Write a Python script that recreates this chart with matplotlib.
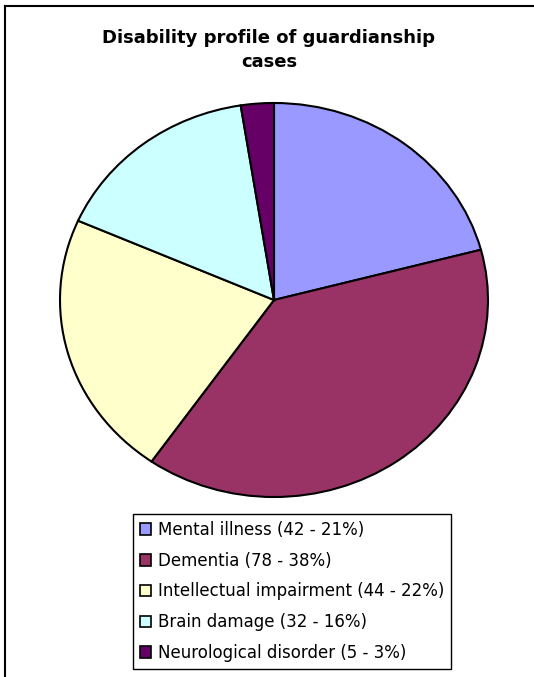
import matplotlib.pyplot as plt
from matplotlib.patches import Patch
from matplotlib.lines import Line2D

plt.rcParams['font.family'] = ['DejaVu Sans']

W, H = 534, 677
DPI = 100

categories = ['Mental illness', 'Dementia', 'Intellectual impairment',
              'Brain damage', 'Neurological disorder']
counts = [42, 78, 44, 32, 5]
pct_labels = ['21%', '38%', '22%', '16%', '3%']
colors = ['#9999FF', '#993366', '#FFFFCC', '#CCFFFF', '#660066']

fig = plt.figure(figsize=(W / DPI, H / DPI), dpi=DPI)

# chart frame (right and bottom edges fall outside the picture)
fig.add_artist(Line2D([5.5 / W, 5.5 / W], [0, 1 - 5.5 / H], color='black',
                      linewidth=1.5, transform=fig.transFigure))
fig.add_artist(Line2D([5.5 / W, 1], [1 - 5.5 / H, 1 - 5.5 / H], color='black',
                      linewidth=1.5, transform=fig.transFigure))

fig.text(269 / W, 1 - 38 / H, 'Disability profile of guardianship', ha='center',
         va='center', fontsize=13, fontweight='bold')
fig.text(269 / W, 1 - 62 / H, 'cases', ha='center', va='center',
         fontsize=13, fontweight='bold')

# pie drawn into a stretched axes so it becomes an ellipse
left, right, top, bottom = 60, 488, 103, 497
ax = fig.add_axes([left / W, 1 - bottom / H, (right - left) / W, (bottom - top) / H])
ax.pie(counts, colors=colors, startangle=90, counterclock=False, radius=1,
       wedgeprops=dict(edgecolor='black', linewidth=1.5))
ax.set_xlim(-1, 1)
ax.set_ylim(-1, 1)
ax.set_aspect('auto')
ax.axis('off')

handles = [Patch(facecolor=c, edgecolor='black', linewidth=1.2) for c in colors]
labels = [f'{c} ({n} - {p})' for c, n, p in zip(categories, counts, pct_labels)]
leg = fig.legend(handles, labels, loc='upper left',
                 bbox_to_anchor=(133 / W, 1 - 514 / H), bbox_transform=fig.transFigure,
                 frameon=True, fancybox=False, edgecolor='black', framealpha=1,
                 fontsize=12, handlelength=0.7, handleheight=0.7, handletextpad=0.4,
                 labelspacing=0.77, borderpad=0.4, borderaxespad=0)
leg.get_frame().set_linewidth(1.0)

fig.savefig('out.png', dpi=DPI, facecolor='white')
